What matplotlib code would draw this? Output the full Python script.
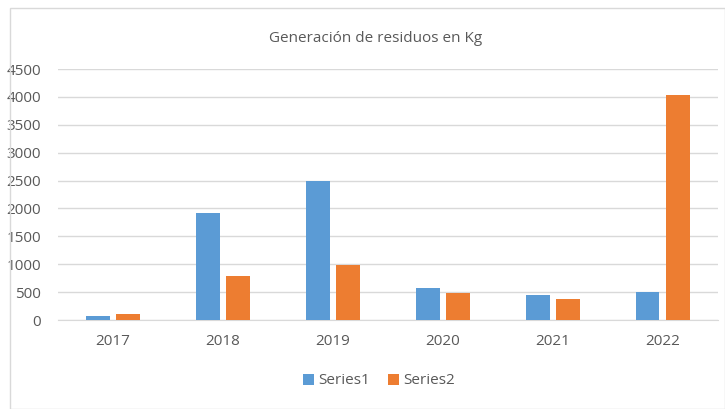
import numpy as np
import matplotlib
matplotlib.use("Agg")
import matplotlib.pyplot as plt
from matplotlib.patches import Rectangle

# Data
years = ["2017", "2018", "2019", "2020", "2021", "2022"]
series1 = [70, 1920, 2500, 580, 450, 510]
series2 = [110, 790, 990, 480, 380, 4030]

blue = "#5B9BD5"
orange = "#ED7D31"
text_col = "#595959"

plt.rcParams["font.family"] = ["Open Sans", "DejaVu Sans"]

fig = plt.figure(figsize=(7.25, 4.09), dpi=100)
fig.patch.set_facecolor("white")

# chart border
fig.patches.append(Rectangle((10/725, 0), 1 - 10/725, 1 - 8/409, transform=fig.transFigure,
                             fill=False, edgecolor="#D9D9D9", linewidth=1))

ax = fig.add_axes([0.080, 0.2176, 0.910, 0.6134])

x = np.arange(len(years))
w = 0.215
gap = 0.06
ax.bar(x - (w + gap) / 2, series1, w, color=blue, label="Series1", zorder=3)
ax.bar(x + (w + gap) / 2, series2, w, color=orange, label="Series2", zorder=3)

ax.set_xlim(-0.5, len(years) - 0.5)
ax.set_ylim(0, 4500)
ax.set_yticks(np.arange(0, 4501, 500))
ax.set_xticks(x)
ax.set_xticklabels(years)

ax.grid(axis="y", color="#D9D9D9", linewidth=1, zorder=0)
for s in ["top", "right", "left"]:
    ax.spines[s].set_visible(False)
ax.spines["bottom"].set_color("#D9D9D9")
ax.tick_params(axis="both", length=0, colors=text_col, labelsize=11)
ax.tick_params(axis="x", pad=10)
ax.tick_params(axis="y", pad=12)

fig.text(0.518, 1 - 38/409, "Generación de residuos en Kg", ha="center", va="center",
         fontsize=11, color=text_col)

fig.legend(loc="center", bbox_to_anchor=(0.523, 1 - 381/409), ncol=2, frameon=False,
           fontsize=11, labelcolor=text_col, handlelength=0.7, handleheight=0.7,
           columnspacing=1.2, handletextpad=0.3)

fig.savefig("out.png", dpi=100)
